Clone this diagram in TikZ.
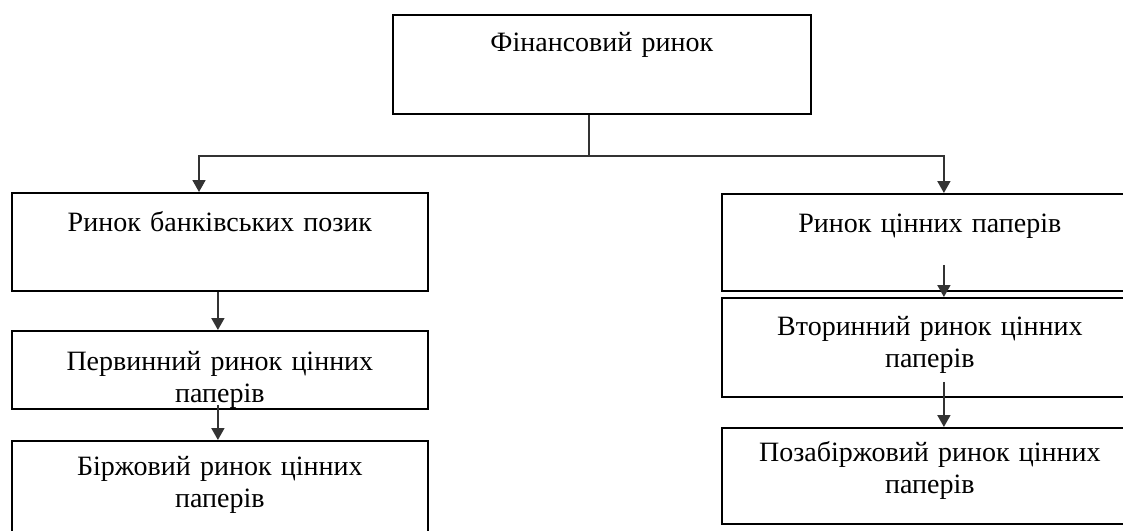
\documentclass[tikz,border=0pt]{standalone}
\usepackage{fontspec}
\setmainfont{Liberation Serif}
\usetikzlibrary{arrows.meta,calc}

\begin{document}
\begin{tikzpicture}[x=1pt,y=-1pt]
% Define styles
\tikzstyle{box}=[rectangle, draw, line width=1.8pt, inner sep=0pt, text width=416pt, align=center, text height=39pt, font=\fontsize{28}{32}\selectfont, anchor=north west]
\tikzstyle{link}=[draw=black!80, line width=1.8pt]
\tikzstyle{arrow}=[link, -{Triangle[width=13pt,length=12pt]}]

\useasboundingbox (0,0) rectangle (1123,530);

% Top level
\node[box, text width=418pt, text height=37pt, text depth=62pt] (fin) at (392,14) {Фінансовий ринок};

% Left column
\node[box, text depth=59pt] (bank) at (11,192) {Ринок банківських позик};
\node[box, text height=40pt, text depth=38pt] (prim) at (11,330) {Первинний ринок цінних\\паперів};
\node[box, text height=35pt, text depth=80pt] (exch) at (11,440) {Біржовий ринок цінних\\паперів};

% Right column
\node[box, text depth=58pt] (sec) at (721,193) {Ринок цінних паперів};
\node[box, text height=38pt, text depth=61pt] (second) at (721,297) {Вторинний ринок цінних\\паперів};
\node[box, text height=34pt, text depth=62pt] (otc) at (721,427) {Позабіржовий ринок цінних\\паперів};

% Split from the top box
\coordinate (split) at ($(fin.south)+(-13,41)$);
\draw[link] (fin.south -| split) -- (split);
\draw[arrow] (split) -| ($(bank.north west)+(188,0)$);
\draw[arrow] (split) -| ($(sec.north)+(14,0)$);

% Left arrows
\draw[arrow] ($(bank.south)+(-2,0)$) -- ($(prim.north)+(-2,0)$);
\draw[arrow] ($(prim.south)+(-2,-5)$) -- ($(exch.north)+(-2,0)$);

% Right arrows
\draw[arrow] ($(sec.south)+(14,-27)$) -- ($(second.north)+(14,0)$);
\draw[arrow] ($(second.south)+(14,-16)$) -- ($(otc.north)+(14,0)$);

\end{tikzpicture}
\end{document}
